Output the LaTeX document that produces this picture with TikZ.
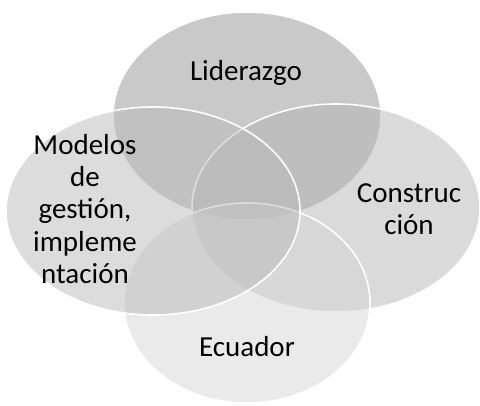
\documentclass[tikz,border=0pt]{standalone}
\usepackage{fontspec}
\setmainfont{Carlito}
\usepackage{tikz}
\tikzstyle{canvas} = [x = 1pt, y = -1pt]
\definecolor{topGray}{RGB}{147,147,147}
\definecolor{rightGray}{RGB}{181,181,181}
\definecolor{bottomGray}{RGB}{213,213,213}
\definecolor{leftGray}{RGB}{185,185,185}
\newcommand{\vennFont}{\fontsize{29}{32.3}\selectfont}
\tikzstyle{vennStyle} = [draw=white, line width=1.6pt, fill opacity=0.5, draw opacity=1]
\tikzstyle{vennText} = [font=\vennFont, align=center, inner sep=0pt]
\newcommand{\vennEllipse}[5]{\filldraw [vennStyle, fill=#5] (#1, #2) ellipse [x radius=#3pt, y radius=#4pt];}

\begin{document}
\begin{tikzpicture}[canvas]
          \useasboundingbox (0,0) rectangle (480,405);
          % back to front: top, right, bottom, left
          \vennEllipse{247}{116}{134}{104}{topGray}
          \vennEllipse{336}{208}{144}{104}{rightGray}
          \vennEllipse{247}{303}{123}{100}{bottomGray}
          \vennEllipse{153}{211}{147}{104}{leftGray}

          \node [vennText, anchor=base] (liderazgo) at (246,80) {Liderazgo};
          \node [vennText] (construccion) at (409,209) {Construc\\ción};
          \node [vennText, anchor=base] (ecuador) at (247,356) {Ecuador};
          \node [vennText] (modelos) at (85,209) {Modelos\\de\\gestión,\\impleme\\ntación};
        \end{tikzpicture}
\end{document}
